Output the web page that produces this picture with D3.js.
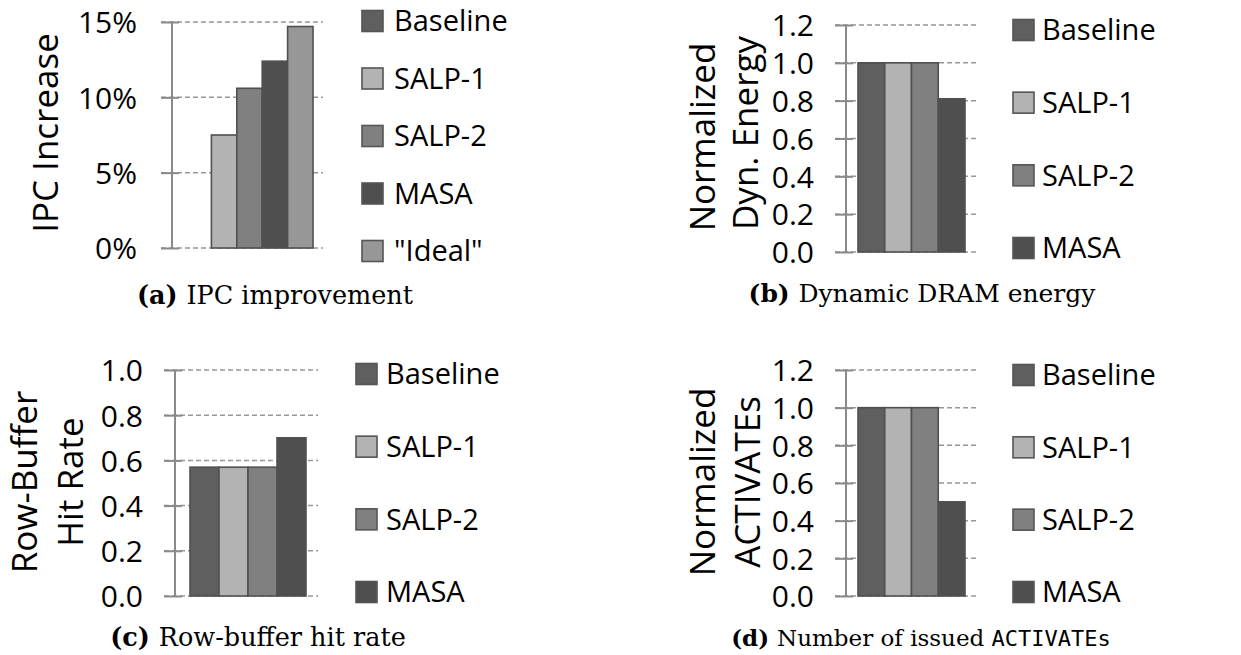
<!DOCTYPE html>
<html>
<head>
<meta charset="utf-8">
<script src="https://cdn.jsdelivr.net/npm/d3@7"></script>
<style>
  html, body { margin: 0; padding: 0; background: #fff; }
  svg { display: block; }
  .sans { font-family: "Open Sans", "Liberation Sans", sans-serif; fill: #000; }
  .cap { font-family: "DejaVu Serif", "Liberation Serif", serif; fill: #000; }
  .mono { font-family: "DejaVu Sans Mono", "Liberation Mono", monospace; }
</style>
</head>
<body>
<svg id="fig" width="1241" height="655"></svg>
<script>
// Series shared by all four panels
const seriesNames = ["Baseline", "SALP-1", "SALP-2", "MASA", "\"Ideal\""];
const seriesColors = ["#5f5f5f", "#b3b3b3", "#808080", "#4f4f4f", "#979797"];

// (a) IPC improvement, percent over baseline
const ipcIncrease = [0, 7.5, 10.6, 12.4, 14.7];
const ipcTicks = [0, 5, 10, 15];

// (b) Dynamic DRAM energy, normalized to baseline
const dynEnergy = [1.0, 1.0, 1.0, 0.81];
const energyTicks = [0, 0.2, 0.4, 0.6, 0.8, 1.0, 1.2];

// (c) Row-buffer hit rate
const rowHitRate = [0.57, 0.57, 0.57, 0.70];
const hitTicks = [0, 0.2, 0.4, 0.6, 0.8, 1.0];

// (d) Number of issued ACTIVATEs, normalized to baseline
const activates = [1.0, 1.0, 1.0, 0.50];
const activateTicks = [0, 0.2, 0.4, 0.6, 0.8, 1.0, 1.2];

const svg = d3.select("#fig");

const panels = [
  {
    values: ipcIncrease, ticks: ipcTicks, fmt: d => d + "%",
    axisX: 172, right: 323, top: 22, bottom: 248, bars: [186, 313],
    labelGap: 35,
    titles: [{ text: "IPC Increase", x: 58, y: 133 }],
    legend: { x: 362, textX: 394, y0: 21, y1: 251 },
    caption: { x: 275, y: 304, size: 25.5, bold: "(a)", rest: [["IPC improvement", false]] }
  },
  {
    values: dynEnergy, ticks: energyTicks, fmt: d3.format(".1f"),
    axisX: 846, right: 977, top: 25, bottom: 252, bars: [858, 965],
    labelGap: 32,
    titles: [{ text: "Normalized", x: 715, y: 137 }, { text: "Dyn. Energy", x: 758, y: 133 }],
    legend: { x: 1013, textX: 1042, y0: 30, y1: 248 },
    caption: { x: 922, y: 302, size: 25, bold: "(b)", rest: [["Dynamic DRAM energy", false]] }
  },
  {
    values: rowHitRate, ticks: hitTicks, fmt: d3.format(".1f"),
    axisX: 175, right: 318, top: 370, bottom: 596, bars: [190, 306],
    labelGap: 32,
    titles: [{ text: "Row-Buffer", x: 37, y: 482 }, { text: "Hit Rate", x: 83, y: 482 }],
    legend: { x: 356, textX: 386, y0: 374, y1: 592 },
    caption: { x: 258, y: 646, size: 25.5, bold: "(c)", rest: [["Row-buffer hit rate", false]] }
  },
  {
    values: activates, ticks: activateTicks, fmt: d3.format(".1f"),
    axisX: 846, right: 977, top: 370, bottom: 596, bars: [858, 965],
    labelGap: 32,
    titles: [{ text: "Normalized", x: 715, y: 482 }, { text: "ACTIVATEs", x: 760, y: 482 }],
    legend: { x: 1013, textX: 1042, y0: 375, y1: 592 },
    caption: { x: 921, y: 646, size: 23, bold: "(d)", rest: [["Number of issued ", false], ["ACTIVATEs", true]] }
  }
];

panels.forEach(p => {
  const g = svg.append("g");
  const names = seriesNames.slice(0, p.values.length);
  const rows = names.map((name, i) => ({ name, value: p.values[i], color: seriesColors[i] }));

  const y = d3.scaleLinear()
    .domain([0, d3.max(p.ticks)])
    .range([p.bottom, p.top]);
  const x = d3.scaleBand()
    .domain(names)
    .range(p.bars)
    .padding(0);

  // dashed gridlines
  g.append("g").selectAll("line")
    .data(p.ticks)
    .join("line")
    .attr("x1", p.axisX - 11).attr("x2", p.right)
    .attr("y1", d => y(d)).attr("y2", d => y(d))
    .attr("stroke", "#979797")
    .attr("stroke-width", 1.5)
    .attr("stroke-dasharray", "5,3");

  // value axis with solid cross ticks
  const axis = d3.axisLeft(y)
    .tickValues(p.ticks)
    .tickFormat(p.fmt)
    .tickSize(0)
    .tickPadding(p.labelGap);
  const ag = g.append("g")
    .attr("transform", `translate(${p.axisX},0)`)
    .call(axis);
  ag.select(".domain").remove();
  ag.selectAll(".tick text")
    .attr("class", "sans")
    .attr("font-size", 30)
    .attr("dy", "0.36em");
  ag.selectAll(".tick")
    .append("line")
    .attr("x1", -11).attr("x2", 7)
    .attr("stroke", "#8a8a8a")
    .attr("stroke-width", 2);
  ag.append("line")
    .attr("y1", y(0)).attr("y2", y(d3.max(p.ticks)))
    .attr("stroke", "#8a8a8a")
    .attr("stroke-width", 2);

  // bars
  g.append("g").selectAll("rect")
    .data(rows)
    .join("rect")
    .attr("x", d => x(d.name))
    .attr("width", x.bandwidth())
    .attr("y", d => y(d.value))
    .attr("height", d => y(0) - y(d.value))
    .attr("fill", d => d.color)
    .attr("stroke", d => d.value > 0 ? "#505050" : "none")
    .attr("stroke-width", 1.6);

  // legend
  const ly = d3.scalePoint()
    .domain(names)
    .range([p.legend.y0, p.legend.y1]);
  const lg = g.append("g").selectAll("g")
    .data(rows)
    .join("g")
    .attr("transform", d => `translate(0,${ly(d.name)})`);
  lg.append("rect")
    .attr("x", p.legend.x).attr("y", -10.5)
    .attr("width", 21).attr("height", 21)
    .attr("fill", d => d.color)
    .attr("stroke", "#555")
    .attr("stroke-width", 1.6);
  lg.append("text")
    .attr("class", "sans")
    .attr("x", p.legend.textX)
    .attr("dy", "0.36em")
    .attr("font-size", 29)
    .text(d => d.name);

  // rotated axis titles
  p.titles.forEach(t => {
    g.append("text")
      .attr("class", "sans")
      .attr("font-size", 35)
      .attr("text-anchor", "middle")
      .attr("transform", `translate(${t.x},${t.y}) rotate(-90)`)
      .text(t.text);
  });

  // caption
  const c = g.append("text")
    .attr("class", "cap")
    .attr("font-size", p.caption.size)
    .attr("text-anchor", "middle")
    .attr("x", p.caption.x)
    .attr("y", p.caption.y);
  c.append("tspan").attr("font-weight", "bold").text(p.caption.bold + " ");
  p.caption.rest.forEach(([txt, mono]) => {
    const s = c.append("tspan").text(txt);
    if (mono) s.attr("class", "mono").attr("font-size", 22);
  });
});
</script>
</body>
</html>
